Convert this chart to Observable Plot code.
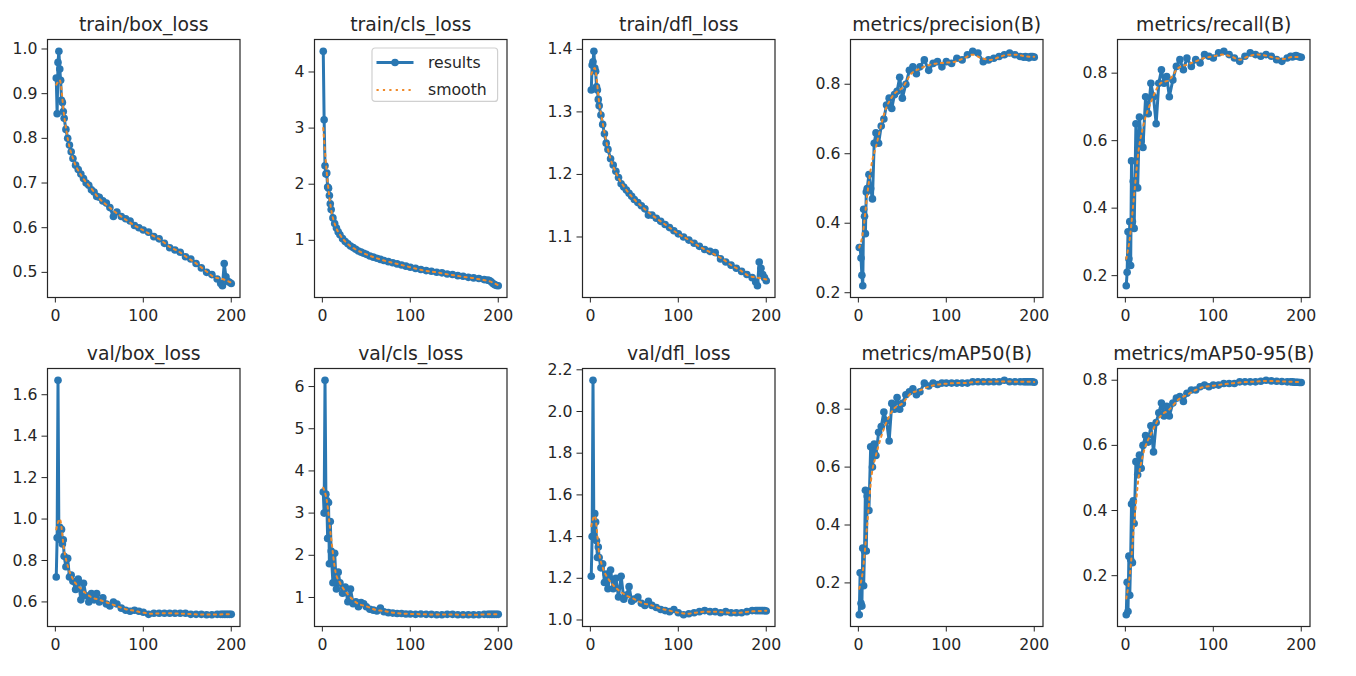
<!DOCTYPE html>
<html><head><meta charset="utf-8">
<script src="https://cdn.jsdelivr.net/npm/d3@7"></script>
<script src="https://cdn.jsdelivr.net/npm/@observablehq/plot@0.6"></script>
<style>
html,body{margin:0;padding:0;background:#fff;}
#chart{position:relative;width:1356px;height:676px;overflow:hidden;font-family:"DejaVu Sans",sans-serif;background:#fff;}
#chart svg{position:absolute;overflow:visible;}
</style></head><body><div id="chart"></div>
<script>
// ---------- data ----------
const titles = ["train/box_loss","train/cls_loss","train/dfl_loss","metrics/precision(B)","metrics/recall(B)",
                "val/box_loss","val/cls_loss","val/dfl_loss","metrics/mAP50(B)","metrics/mAP50-95(B)"];
const legendLabels = ["results","smooth"];
const epochs = [1,2,3,4,5,6,7,8,9,10,12,14,16,18,20,23,26,29,32,35,38,41,44,47,50,54,58,62,66,70,75,80,85,90,95,100,106,112,118,124,130,136,142,148,154,160,166,172,178,184,188,190,192,194,196,198,200];
const smoothEpochs = [1,5,10,15,20,30,40,50,60,70,80,90,100,110,120,130,140,150,160,170,180,190,200];
const xTicks = [0,100,200];

const trainBoxLoss = [0.935,0.855,0.97,0.995,0.955,0.93,0.885,0.88,0.86,0.845,0.82,0.80,0.785,0.77,0.755,0.74,0.73,0.72,0.71,0.70,0.695,0.685,0.68,0.67,0.668,0.66,0.655,0.645,0.625,0.635,0.625,0.62,0.615,0.605,0.60,0.595,0.59,0.58,0.575,0.565,0.555,0.55,0.545,0.535,0.53,0.52,0.51,0.50,0.495,0.485,0.475,0.47,0.52,0.49,0.48,0.478,0.475];
const trainClsLoss = [4.37,3.15,2.33,2.18,2.2,1.95,1.93,1.8,1.65,1.55,1.4,1.3,1.22,1.15,1.1,1.03,0.98,0.94,0.9,0.87,0.84,0.81,0.79,0.77,0.75,0.72,0.70,0.68,0.66,0.64,0.62,0.60,0.58,0.56,0.54,0.52,0.50,0.48,0.46,0.45,0.43,0.42,0.40,0.39,0.37,0.36,0.34,0.33,0.32,0.30,0.29,0.285,0.26,0.23,0.21,0.195,0.19];
const trainDflLoss = [1.335,1.375,1.38,1.397,1.37,1.365,1.34,1.335,1.32,1.31,1.295,1.28,1.265,1.25,1.24,1.225,1.215,1.205,1.195,1.185,1.18,1.175,1.17,1.165,1.16,1.155,1.15,1.145,1.135,1.135,1.13,1.125,1.12,1.115,1.11,1.105,1.1,1.095,1.09,1.085,1.08,1.077,1.075,1.065,1.06,1.055,1.05,1.045,1.04,1.035,1.028,1.022,1.06,1.05,1.04,1.035,1.03];
const precision = [0.33,0.33,0.30,0.25,0.22,0.44,0.42,0.37,0.49,0.50,0.54,0.50,0.47,0.63,0.66,0.63,0.68,0.70,0.74,0.76,0.73,0.77,0.78,0.82,0.76,0.80,0.84,0.85,0.83,0.85,0.87,0.84,0.86,0.865,0.85,0.865,0.86,0.875,0.87,0.885,0.895,0.89,0.865,0.87,0.875,0.88,0.885,0.89,0.885,0.88,0.878,0.88,0.878,0.876,0.88,0.88,0.878];
const recall = [0.17,0.21,0.33,0.25,0.36,0.23,0.54,0.36,0.48,0.34,0.65,0.46,0.67,0.60,0.58,0.73,0.68,0.77,0.73,0.65,0.77,0.81,0.77,0.79,0.73,0.78,0.82,0.84,0.81,0.845,0.82,0.84,0.83,0.855,0.85,0.845,0.86,0.865,0.855,0.845,0.835,0.85,0.86,0.855,0.85,0.855,0.85,0.84,0.835,0.845,0.85,0.848,0.85,0.852,0.85,0.848,0.847];
const valBoxLoss = [0.72,0.91,1.67,0.91,0.96,0.90,0.95,0.88,0.90,0.82,0.77,0.81,0.72,0.73,0.70,0.66,0.71,0.61,0.69,0.63,0.60,0.64,0.61,0.64,0.60,0.62,0.59,0.58,0.60,0.59,0.57,0.56,0.555,0.56,0.555,0.55,0.54,0.545,0.545,0.545,0.545,0.545,0.545,0.545,0.54,0.54,0.54,0.538,0.538,0.54,0.54,0.54,0.54,0.54,0.54,0.54,0.54];
const valClsLoss = [3.5,3.0,6.15,3.45,3.3,2.4,3.25,1.8,2.8,2.1,1.35,2.05,1.2,1.6,1.35,1.1,1.25,0.9,1.2,0.85,0.9,0.78,0.88,0.85,0.78,0.72,0.70,0.68,0.75,0.66,0.64,0.63,0.62,0.62,0.61,0.61,0.60,0.61,0.60,0.60,0.59,0.59,0.60,0.60,0.59,0.59,0.59,0.59,0.59,0.60,0.60,0.60,0.60,0.60,0.60,0.60,0.60];
const valDflLoss = [1.21,1.40,2.15,1.40,1.51,1.47,1.38,1.30,1.35,1.30,1.25,1.27,1.18,1.22,1.15,1.24,1.15,1.20,1.11,1.21,1.10,1.12,1.16,1.09,1.10,1.11,1.08,1.07,1.09,1.07,1.06,1.05,1.045,1.04,1.05,1.035,1.025,1.03,1.035,1.04,1.045,1.04,1.04,1.035,1.04,1.035,1.035,1.035,1.04,1.045,1.045,1.045,1.045,1.045,1.045,1.045,1.043];
const mAP50 = [0.09,0.235,0.13,0.12,0.32,0.19,0.31,0.52,0.31,0.50,0.45,0.67,0.60,0.68,0.64,0.72,0.74,0.79,0.76,0.69,0.82,0.80,0.84,0.80,0.82,0.85,0.86,0.87,0.85,0.86,0.89,0.88,0.89,0.885,0.89,0.89,0.89,0.89,0.89,0.89,0.895,0.895,0.895,0.895,0.895,0.895,0.90,0.895,0.895,0.895,0.895,0.895,0.895,0.895,0.895,0.895,0.893];
const mAP5095 = [0.08,0.18,0.09,0.26,0.14,0.25,0.42,0.24,0.43,0.36,0.55,0.51,0.57,0.53,0.60,0.63,0.61,0.66,0.58,0.67,0.70,0.73,0.69,0.72,0.69,0.73,0.745,0.75,0.735,0.76,0.77,0.77,0.78,0.785,0.78,0.785,0.785,0.79,0.79,0.79,0.795,0.795,0.795,0.795,0.797,0.80,0.798,0.797,0.796,0.795,0.795,0.795,0.794,0.794,0.794,0.793,0.793];

const trainBoxSmooth = [0.92,0.93,0.85,0.79,0.755,0.715,0.69,0.665,0.648,0.632,0.618,0.605,0.594,0.583,0.572,0.557,0.547,0.533,0.52,0.505,0.49,0.485,0.477];
const trainClsSmooth = [3.0,2.2,1.55,1.25,1.1,0.92,0.82,0.75,0.69,0.64,0.6,0.56,0.52,0.48,0.45,0.43,0.4,0.375,0.35,0.33,0.3,0.27,0.2];
const trainDflSmooth = [1.36,1.37,1.315,1.275,1.24,1.2,1.177,1.16,1.147,1.135,1.125,1.115,1.105,1.097,1.088,1.08,1.073,1.065,1.055,1.047,1.038,1.035,1.032];
const precisionSmooth = [0.33,0.37,0.48,0.57,0.62,0.72,0.77,0.79,0.83,0.845,0.855,0.86,0.862,0.865,0.875,0.885,0.875,0.87,0.878,0.885,0.885,0.88,0.879];
const recallSmooth = [0.25,0.31,0.44,0.57,0.64,0.72,0.77,0.78,0.815,0.825,0.835,0.845,0.85,0.855,0.85,0.84,0.85,0.855,0.852,0.845,0.842,0.848,0.848];
const valBoxSmooth = [0.95,1.0,0.85,0.76,0.71,0.66,0.625,0.61,0.595,0.58,0.565,0.557,0.548,0.543,0.545,0.545,0.544,0.542,0.54,0.539,0.539,0.54,0.54];
const valClsSmooth = [3.6,3.3,2.4,1.6,1.35,1.05,0.86,0.79,0.71,0.68,0.64,0.62,0.61,0.605,0.6,0.595,0.595,0.595,0.59,0.59,0.595,0.6,0.6];
const valDflSmooth = [1.45,1.5,1.32,1.24,1.2,1.15,1.12,1.1,1.08,1.07,1.055,1.045,1.035,1.03,1.035,1.04,1.04,1.037,1.035,1.035,1.04,1.043,1.044];
const mAP50Smooth = [0.18,0.24,0.4,0.57,0.64,0.74,0.8,0.82,0.855,0.865,0.878,0.885,0.888,0.89,0.89,0.893,0.895,0.895,0.896,0.896,0.895,0.895,0.894];
const mAP5095Smooth = [0.13,0.2,0.36,0.5,0.57,0.64,0.69,0.71,0.74,0.755,0.77,0.78,0.783,0.787,0.79,0.793,0.795,0.796,0.798,0.797,0.796,0.795,0.794];

const yTicks = [
  [0.5,0.6,0.7,0.8,0.9,1.0],[1,2,3,4],[1.1,1.2,1.3,1.4],[0.2,0.4,0.6,0.8],[0.2,0.4,0.6,0.8],
  [0.6,0.8,1.0,1.2,1.4,1.6],[1,2,3,4,5,6],[1.0,1.2,1.4,1.6,1.8,2.0,2.2],[0.2,0.4,0.6,0.8],[0.2,0.4,0.6,0.8]
];
const yFormats = [".1f","d",".1f",".1f",".1f",".1f","d",".1f",".1f",".1f"];

const results = [trainBoxLoss,trainClsLoss,trainDflLoss,precision,recall,valBoxLoss,valClsLoss,valDflLoss,mAP50,mAP5095];
const smooths = [trainBoxSmooth,trainClsSmooth,trainDflSmooth,precisionSmooth,recallSmooth,valBoxSmooth,valClsSmooth,valDflSmooth,mAP50Smooth,mAP5095Smooth];

// ---------- layout ----------
const C0 = "#2a77b2", C1 = "#f08a2a", INK = "#262626";
const FRAME_W = 192.5, FRAME_H = 258;
const COL0 = 46.7, COL_STEP = 267.6, ROW0 = 39, ROW_STEP = 328.7;
const M = {left: 50, right: 14, top: 40, bottom: 40};
const chart = document.getElementById("chart");

results.forEach((vals, i) => {
  const r = Math.floor(i / 5), c = i % 5;
  const res = epochs.map((e, k) => ({epoch: e, value: vals[k]}));
  const sm = smoothEpochs.map((e, k) => ({epoch: e, value: smooths[i][k]}));
  const [lo, hi] = d3.extent(vals.concat(smooths[i]));
  const pad = (hi - lo) * 0.05;
  const [xlo, xhi] = d3.extent(epochs);
  const xpad = (xhi - xlo) * 0.05;
  const svg = Plot.plot({
    width: M.left + FRAME_W + M.right,
    height: M.top + FRAME_H + M.bottom,
    marginLeft: M.left, marginRight: M.right, marginTop: M.top, marginBottom: M.bottom,
    style: {fontFamily: "DejaVu Sans", fontSize: "15.7px", color: INK, background: "transparent", overflow: "visible"},
    x: {domain: [xlo - xpad, xhi + xpad], ticks: xTicks, tickFormat: "d", tickSize: 5.5, tickPadding: 7, label: null},
    y: {domain: [lo - pad, hi + pad], ticks: yTicks[i], tickFormat: d3.format(yFormats[i]), tickSize: 5.5, tickPadding: 4.5, label: null},
    marks: [
      Plot.line(res, {x: "epoch", y: "value", stroke: C0, strokeWidth: 3}),
      Plot.dot(res, {x: "epoch", y: "value", r: 3.8, fill: C0, stroke: "none"}),
      Plot.line(sm, {x: "epoch", y: "value", stroke: C1, strokeWidth: 2, strokeDasharray: "2.2,4.2", curve: "monotone-x"}),
      Plot.frame({stroke: INK, strokeWidth: 1.2}),
      Plot.text([titles[i]], {frameAnchor: "top", dy: -9, lineAnchor: "bottom", fontSize: 18.8, fill: INK})
    ]
  });
  svg.style.left = (COL0 + COL_STEP * c - M.left) + "px";
  svg.style.top = (ROW0 + ROW_STEP * r - M.top) + "px";
  chart.appendChild(svg);
});

// ---------- legend (on train/cls_loss panel) ----------
(function () {
  const fx = COL0 + COL_STEP * 1, fy = ROW0;
  const boxW = 125.6, boxH = 53.4;
  const bx = fx + FRAME_W - 9.5 - boxW, by = fy + 9.3;
  const svg = d3.create("svg").attr("width", boxW + 4).attr("height", boxH + 4)
    .style("left", (bx - 2) + "px").style("top", (by - 2) + "px");
  const g = svg.append("g").attr("transform", "translate(2,2)");
  g.append("rect").attr("width", boxW).attr("height", boxH).attr("rx", 3)
    .attr("fill", "rgba(255,255,255,0.8)").attr("stroke", "#d0d0d0").attr("stroke-width", 1.2);
  const rows = [14.5, 42];
  g.append("line").attr("x1", 4.5).attr("x2", 41.5).attr("y1", rows[0]).attr("y2", rows[0])
    .attr("stroke", C0).attr("stroke-width", 3);
  g.append("circle").attr("cx", 23).attr("cy", rows[0]).attr("r", 3.8).attr("fill", C0);
  g.append("line").attr("x1", 4.5).attr("x2", 41.5).attr("y1", rows[1]).attr("y2", rows[1])
    .attr("stroke", C1).attr("stroke-width", 2).attr("stroke-dasharray", "2.2,4.2");
  legendLabels.forEach((t, k) => {
    g.append("text").attr("x", 56).attr("y", rows[k]).attr("dy", "0.35em")
      .attr("font-family", "DejaVu Sans").attr("font-size", 15.7).attr("fill", INK).text(t);
  });
  chart.appendChild(svg.node());
})();
</script></body></html>
